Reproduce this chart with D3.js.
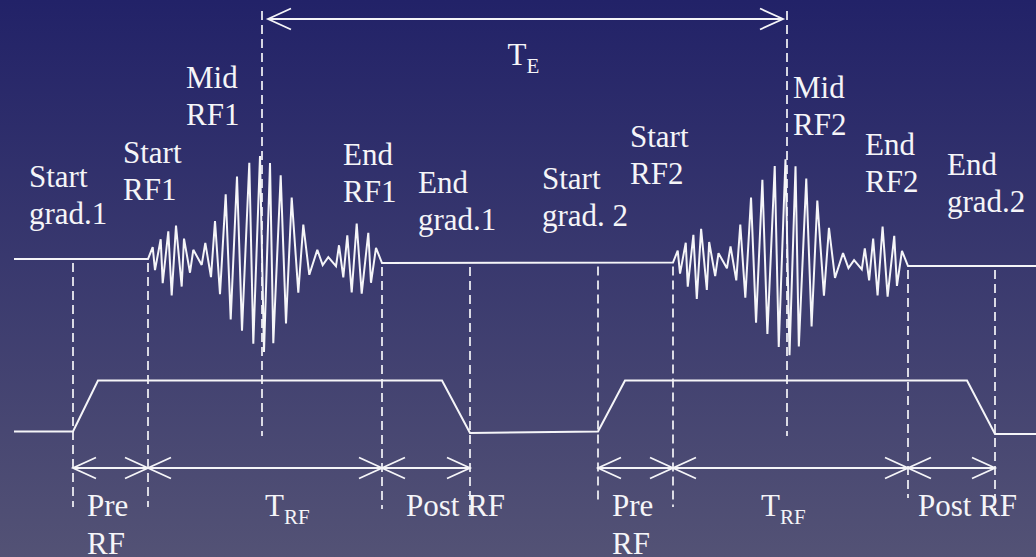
<!DOCTYPE html>
<html>
<head>
<meta charset="utf-8">
<style>
  html, body { margin: 0; padding: 0; background: #2a2a6a; overflow: hidden; }
  svg { display: block; }
  .lbl { font-family: "Liberation Serif", Tinos, "Times New Roman", "DejaVu Serif", serif; }
</style>
<script src="https://cdn.jsdelivr.net/npm/d3@7"></script>
</head>
<body>
<div id="chart"></div>
<script>
// Event times (diagram time units) for the two echoes:
// start gradient, start RF, mid RF, end RF, end gradient
const eventKeys = ['startGrad', 'startRF', 'midRF', 'endRF', 'endGrad'];
const echo1Times = [73, 148, 262, 382, 470];
const echo2Times = [598, 673, 787, 908, 995];

// gradient ramp durations (up, down) for each echo
const gradRampUp = [25, 27];
const gradRampDown = [28, 28];

// RF pulse waveform vertices (time from pulse start, amplitude)
const rfTime = [0, 4.7, 7, 12.7, 14.7, 20.3, 23.7, 28, 33.7, 36, 42, 45.3, 53.7, 57.3, 63, 67, 72, 77.7, 82.7, 89,
  94, 101.3, 105.3, 112, 116, 122, 125.3, 132.7, 138, 143.7, 150.3, 155.3, 161.3, 169.3, 174.7, 180.3, 188, 191,
  195.3, 199.3, 203.7, 208.7, 213.7, 220.3, 223, 228, 234];
const rfAmp = [0, 12, -11, 20, -24, 28, -36, 34, -27, 21, -13, 10, -5, 17, -17, 39, -34, 66, -59, 84,
  -70, 98, -83, 105, -91, 98, -82, 86, -62, 64, -31, 37, -13, 12, -3, 5, -4, 17,
  -15, 27, -30, 39, -31, 30, -20, 15, 0];

// labels
const echo1Labels = [['Start', 'grad.1'], ['Start', 'RF1'], ['Mid', 'RF1'], ['End', 'RF1'], ['End', 'grad.1']];
const echo2Labels = [['Start', 'grad. 2'], ['Start', 'RF2'], ['Mid', 'RF2'], ['End', 'RF2'], ['End', 'grad.2']];
const echoTimeLabel = ['T', 'E'];
const rfTimeLabel = ['T', 'RF'];
const preLabel = ['Pre', 'RF'];
const postLabel = 'Post RF';

(function() {
  const width = 1036;
  const height = 557;

  // layout (pixels)
  const layout = {
    rfBase: [259, 263, 262.5, 266],      // RF line level before/after each pulse
    gradLow: [431.5, 433, 431.5, 434],  // gradient line low level before/after each lobe
    gradTop: 380.5,
    arrowY: 468,
    teY: 19,
    head: { len: 23, half: 10.5 },
    lineStart: 14,
    midTop: 11,
    midBottom: 436,
    dashBottom: [[507, 507, 0, 509, 517], [500, 507, 0, 498, 510]],
    // label offsets: x relative to the event, first baseline
    labelPos: [
      [[-44, 187], [-25, 163], [-76, 88], [-39, 165], [-52, 193]],
      [[-56, 189], [-43, 147], [6, 98], [-43, 155], [-48, 175]]
    ],
    lineGap: 37,
    bottomY: 516
  };

  const ink = '#f5f5f8';

  const echoes = [echo1Times, echo2Times].map(function(times, i) {
    const e = {};
    eventKeys.forEach(function(k, j) { e[k] = times[j]; });
    e.labels = i === 0 ? echo1Labels : echo2Labels;
    e.index = i;
    return e;
  });

  const x = d3.scaleLinear().domain([0, width]).range([0, width]);
  const amp = d3.scaleLinear().domain([-100, 100]).range([100, -100]);
  const gradY = function(level, low) {
    return d3.scaleLinear().domain([0, 1]).range([low, layout.gradTop])(level);
  };

  const svg = d3.select('#chart').append('svg')
    .attr('width', width)
    .attr('height', height)
    .attr('viewBox', '0 0 ' + width + ' ' + height);

  // background gradient
  const defs = svg.append('defs');
  const bg = defs.append('linearGradient')
    .attr('id', 'bg').attr('x1', 0).attr('y1', 0).attr('x2', 0).attr('y2', 1);
  bg.append('stop').attr('offset', '0%').attr('stop-color', '#222268');
  bg.append('stop').attr('offset', '100%').attr('stop-color', '#535275');
  svg.append('rect').attr('width', width).attr('height', height).attr('fill', 'url(#bg)');

  const line = d3.line().x(function(d) { return d[0]; }).y(function(d) { return d[1]; });

  // RF channel
  const rfPts = [[x(layout.lineStart), layout.rfBase[0]]];
  echoes.forEach(function(e, i) {
    const b0 = layout.rfBase[i * 2];
    const b1 = layout.rfBase[i * 2 + 1];
    const tScale = d3.scaleLinear().domain([0, rfTime[rfTime.length - 1]]).range([x(e.startRF), x(e.endRF)]);
    const baseAt = d3.scaleLinear().domain([x(e.startRF), x(e.endRF)]).range([b0, b1]);
    rfTime.forEach(function(t, j) {
      const px = tScale(t);
      rfPts.push([px, baseAt(px) + amp(rfAmp[j])]);
    });
  });
  rfPts.push([x(width), layout.rfBase[3]]);

  svg.append('path')
    .attr('d', line(rfPts))
    .attr('fill', 'none')
    .attr('stroke', ink)
    .attr('stroke-width', 2)
    .attr('stroke-linejoin', 'miter')
    .attr('stroke-miterlimit', 3);

  // gradient channel
  const gPts = [[x(layout.lineStart), gradY(0, layout.gradLow[0])]];
  echoes.forEach(function(e, i) {
    const lo0 = layout.gradLow[i * 2];
    const lo1 = layout.gradLow[i * 2 + 1];
    gPts.push([x(e.startGrad), gradY(0, lo0)]);
    gPts.push([x(e.startGrad + gradRampUp[i]), gradY(1, lo0)]);
    gPts.push([x(e.endGrad - gradRampDown[i]), gradY(1, lo1)]);
    gPts.push([x(e.endGrad), gradY(0, lo1)]);
  });
  gPts.push([x(width), gradY(0, layout.gradLow[3])]);

  svg.append('path')
    .attr('d', line(gPts))
    .attr('fill', 'none')
    .attr('stroke', ink)
    .attr('stroke-width', 2);

  // dashed event markers
  echoes.forEach(function(e, i) {
    const b0 = layout.rfBase[i * 2];
    const b1 = layout.rfBase[i * 2 + 1];
    eventKeys.forEach(function(k, j) {
      let y1, y2;
      if (k === 'midRF') {
        y1 = layout.midTop;
        y2 = layout.midBottom;
      } else {
        y1 = (j < 2 ? b0 : b1) + 4;
        y2 = layout.dashBottom[i][j];
      }
      svg.append('line')
        .attr('x1', x(e[k])).attr('x2', x(e[k]))
        .attr('y1', y1).attr('y2', y2)
        .attr('stroke', ink)
        .attr('stroke-width', 1.7)
        .attr('stroke-dasharray', '9,5');
    });
  });

  // arrows
  function head(tipX, y, dir) {
    // dir = -1 : arms extend to the left of the tip (points right)
    const h = layout.head;
    svg.append('path')
      .attr('d', line([[tipX + dir * h.len, y - h.half], [tipX, y], [tipX + dir * h.len, y + h.half]]))
      .attr('fill', 'none')
      .attr('stroke', ink)
      .attr('stroke-width', 1.8);
  }
  function hline(x1, x2, y) {
    svg.append('line')
      .attr('x1', x1).attr('x2', x2).attr('y1', y).attr('y2', y)
      .attr('stroke', ink).attr('stroke-width', 1.8);
  }

  echoes.forEach(function(e) {
    const y = layout.arrowY;
    hline(x(e.startGrad), x(e.endGrad), y);
    head(x(e.startGrad), y, 1);
    head(x(e.startRF), y, -1);
    head(x(e.startRF), y, 1);
    head(x(e.endRF), y, -1);
    head(x(e.endRF), y, 1);
    head(x(e.endGrad), y, -1);
  });

  // echo time arrow
  const teL = x(echoes[0].midRF) + 6;
  const teR = x(echoes[1].midRF) - 4;
  hline(teL, teR, layout.teY);
  head(teL, layout.teY, 1);
  head(teR, layout.teY, -1);

  // text
  const text = svg.append('g')
    .attr('class', 'lbl')
    .attr('fill', ink)
    .attr('font-family', 'Liberation Serif, Tinos, Times New Roman, DejaVu Serif, serif')
    .attr('font-size', 31);

  echoes.forEach(function(e, i) {
    eventKeys.forEach(function(k, j) {
      const pos = layout.labelPos[i][j];
      const t = text.append('text')
        .attr('x', x(e[k]) + pos[0])
        .attr('y', pos[1]);
      e.labels[j].forEach(function(s, n) {
        t.append('tspan')
          .attr('x', x(e[k]) + pos[0])
          .attr('dy', n === 0 ? 0 : layout.lineGap)
          .text(s);
      });
    });

    // bottom labels
    const pre = text.append('text')
      .attr('x', x(e.startGrad) + 14)
      .attr('y', layout.bottomY);
    preLabel.forEach(function(s, n) {
      pre.append('tspan')
        .attr('x', x(e.startGrad) + 14)
        .attr('dy', n === 0 ? 0 : 38)
        .text(s);
    });

    const trf = text.append('text')
      .attr('x', x(e.midRF) + (i === 0 ? 3 : -26))
      .attr('y', layout.bottomY);
    trf.append('tspan').text(rfTimeLabel[0]);
    trf.append('tspan')
      .attr('dy', 8)
      .attr('font-size', 21)
      .text(rfTimeLabel[1]);

    text.append('text')
      .attr('x', x(e.endRF) + (i === 0 ? 24 : 10))
      .attr('y', layout.bottomY)
      .text(postLabel);
  });

  const te = text.append('text')
    .attr('x', (teL + teR) / 2 - 18)
    .attr('y', 65);
  te.append('tspan').text(echoTimeLabel[0]);
  te.append('tspan')
    .attr('dy', 8)
    .attr('font-size', 21)
    .text(echoTimeLabel[1]);
})();
</script>
</body>
</html>
